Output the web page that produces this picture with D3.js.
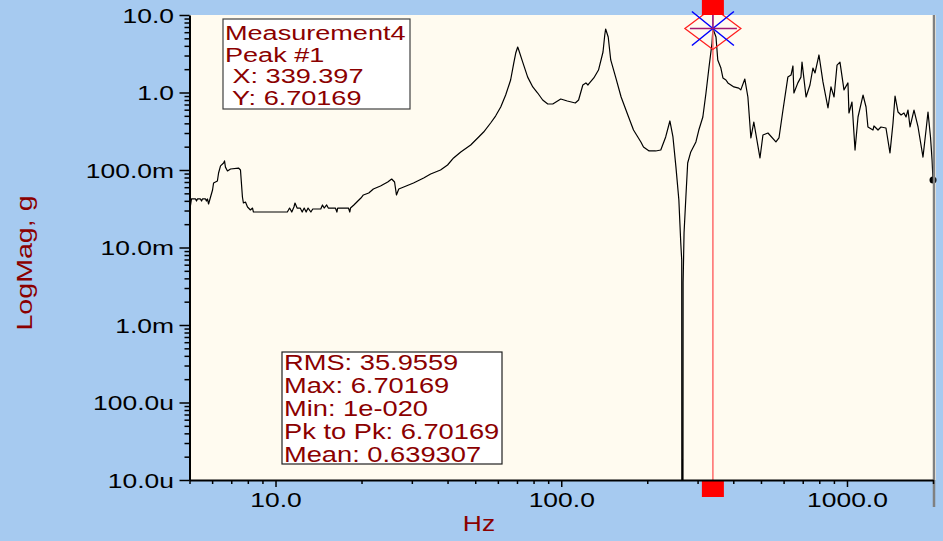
<!DOCTYPE html>
<html>
<head>
<meta charset="utf-8">
<script src="https://cdn.jsdelivr.net/npm/d3@7"></script>
<style>
  body { margin: 0; background: #a6caf0; }
  svg { display: block; font-family: "Liberation Sans", Arial, sans-serif; }
</style>
</head>
<body>
<script>
// Spectrum (Hz, g).
const freq = [5.04, 5.08, 5.25, 5.29, 5.33, 5.46, 5.51, 5.55, 5.69, 5.73, 5.78, 5.83, 6.02, 6.07, 6.26, 6.32, 6.42, 6.58, 6.63, 6.68,
  6.79, 6.96, 7.42, 7.54, 7.66, 7.72, 7.85, 7.98, 8.17, 8.31, 8.37, 11.0, 11.2, 11.4, 11.6, 11.7, 11.9, 12.2, 12.4, 12.6,
  12.8, 13.0, 13.3, 13.5, 14.4, 14.6, 14.8, 15.1, 15.3, 16.2, 16.4, 16.5, 18.0, 18.2, 18.3, 18.8, 19.9, 20.3, 21.2, 22.0,
  23.3, 24.7, 25.5, 26.1, 26.5, 27.0, 28.1, 30.4, 33.0, 34.9, 37.8, 40.0, 42.0, 44.5, 48.2, 51.0, 53.5, 56.6, 58.9, 61.4,
  63.9, 66.5, 68.2, 69.3, 70.4, 71.0, 73.3, 76.3, 79.5, 82.7, 86.1, 89.7, 93.4, 99.6, 105, 112, 115, 119, 122, 124,
  130, 135, 140, 142, 143, 146, 149, 155, 162, 171, 179, 190, 194, 203, 214, 223,
  232, 240, 246, 252, 258, 262, 264, 265, 267, 269, 273, 277, 284, 296, 303, 313, 321,
  329, 337, 339.397, 348, 353, 362, 368, 377, 383, 402, 418, 425, 439, 450, 461, 472, 496, 508, 529, 564,
  578, 597, 621, 637, 647, 652, 673, 690, 696, 719, 742, 760, 773, 798, 824, 858, 879, 901, 923, 945,
  976, 1008, 1016, 1041, 1067, 1093, 1138, 1166, 1184, 1233, 1243, 1284, 1315, 1369, 1414, 1449, 1473, 1509, 1546, 1583,
  1609, 1635, 1662, 1716, 1773, 1845, 1891, 1921, 1960, 1985, 2000];
const mag = [0.035, 0.0423, 0.0423, 0.0398, 0.0423, 0.0423, 0.0398, 0.0423, 0.0423, 0.0398, 0.0423, 0.0364, 0.0552, 0.068, 0.0721, 0.0915, 0.113, 0.123, 0.131, 0.109,
  0.0971, 0.103, 0.106, 0.1, 0.0448, 0.0375, 0.0386, 0.0333, 0.0305, 0.0323, 0.0287, 0.0287, 0.0323, 0.0287, 0.0333, 0.0375, 0.0323, 0.0323, 0.0287, 0.0323,
  0.0287, 0.0323, 0.0287, 0.0314, 0.0314, 0.0354, 0.0323, 0.0354, 0.0323, 0.0323, 0.0287, 0.0323, 0.0323, 0.0287, 0.0323, 0.0354, 0.0435, 0.0476, 0.0505, 0.0569,
  0.0622, 0.07, 0.0765, 0.07, 0.0476, 0.0569, 0.0603, 0.068, 0.0788, 0.0888, 0.1, 0.116, 0.143, 0.171, 0.21, 0.259, 0.309, 0.404, 0.497, 0.65,
  0.928, 1.45, 2.4, 3.23, 3.86, 3.53, 2.47, 1.58, 1.18, 0.985, 0.8, 0.711, 0.711, 0.824, 0.777, 0.732, 0.8, 1.25, 1.33, 1.25,
  1.54, 1.95, 3.33, 5.52, 6.6, 5.2, 2.63, 1.58, 0.875, 0.513, 0.328, 0.23, 0.198, 0.176, 0.176, 0.181,
  0.267, 0.429, 0.267, 0.109, 0.041, 0.0114, 0.0069, 1e-20, 0.00348, 0.0154, 0.0448, 0.123, 0.171, 0.23, 0.328, 0.483, 0.985,
  2.13, 4.35, 6.70169, 5.2, 2.63, 2.07, 1.54, 1.45, 1.33, 1.18, 1.14, 1.08, 1.49, 0.875, 0.259, 0.416, 0.143, 0.283, 0.3, 0.23,
  0.259, 0.594, 1.58, 1.68, 2.2, 0.985, 1.33, 1.58, 2.47, 0.875, 1.25, 2.07, 1.79, 3.05, 1.37, 0.631, 1.18, 0.875, 2.26, 2.47,
  1.08, 1.33, 0.544, 0.754, 0.181, 0.483, 0.928, 0.65, 0.359, 0.328, 0.37, 0.328, 0.359, 0.348, 0.166, 0.404, 0.901, 0.56, 0.513, 0.544,
  0.483, 0.594, 0.359, 0.594, 0.359, 0.147, 0.328, 0.56, 0.267, 0.135, 0.0743];

const yTickValues = [10, 1, 0.1, 0.01, 0.001, 0.0001, 0.00001];
const yTickLabels = ["10.0", "1.0", "100.0m", "10.0m", "1.0m", "100.0u", "10.0u"];
const xTickValues = [10, 100, 1000];
const xTickLabels = ["10.0", "100.0", "1000.0"];

const peak = {x: 339.397, y: 6.70169};
const peakLines = ["Measurement4", "Peak #1", " X: 339.397", " Y: 6.70169"];
const statLines = ["RMS: 35.9559", "Max: 6.70169", "Min: 1e-020", "Pk to Pk: 6.70169", "Mean: 0.639307"];

const width = 943;
const height = 541;
const plot = {left: 189.5, right: 933, top: 15, bottom: 480};
const darkRed = '#8b0000';

const svg = d3.select('body').append('svg')
    .attr('width', width)
    .attr('height', height);

svg.append('rect').attr('width', width).attr('height', height).attr('fill', '#a6caf0');

const x = d3.scaleLog().domain([5, 2000]).range([plot.left, plot.right]);
const y = d3.scaleLog().domain([1e-5, 10]).range([plot.bottom, plot.top]);

// plot background
svg.append('rect')
    .attr('x', plot.left).attr('y', plot.top)
    .attr('width', 936 - plot.left).attr('height', plot.bottom - plot.top)
    .attr('fill', '#fffbf0');

svg.append('clipPath').attr('id', 'clip')
  .append('rect')
    .attr('x', plot.left).attr('y', plot.top)
    .attr('width', plot.right - plot.left).attr('height', plot.bottom - plot.top);

// curve
const points = freq.map((f, i) => [f, mag[i]]);
const line = d3.line().x(d => x(d[0])).y(d => y(d[1]));

svg.append('path')
    .datum(points)
    .attr('clip-path', 'url(#clip)')
    .attr('fill', 'none')
    .attr('stroke', '#000')
    .attr('stroke-width', 1.2)
    .attr('stroke-linejoin', 'round')
    .attr('d', line);

// last point dot
svg.append('circle')
    .attr('cx', x(freq[freq.length - 1]))
    .attr('cy', y(mag[mag.length - 1]))
    .attr('r', 3.5)
    .attr('fill', '#000');

// cursor line at the peak
const px = x(peak.x);
const py = y(peak.y);
svg.append('line')
    .attr('x1', px).attr('x2', px)
    .attr('y1', plot.top).attr('y2', plot.bottom)
    .attr('stroke', '#ff6a6a').attr('stroke-width', 1.5);

// diamond marker
svg.append('path')
    .attr('d', `M${px - 28},${py} L${px},${py - 21} L${px + 28},${py} L${px},${py + 21} Z`)
    .attr('fill', 'none').attr('stroke', '#ff2020').attr('stroke-width', 1.3);

// blue asterisk
const star = svg.append('g').attr('stroke-width', 1.5);
star.append('line').attr('x1', px - 21).attr('y1', py - 17).attr('x2', px + 21).attr('y2', py + 17).attr('stroke', '#0000ff');
star.append('line').attr('x1', px + 21).attr('y1', py - 17).attr('x2', px - 21).attr('y2', py + 17).attr('stroke', '#0000ff');
star.append('line').attr('x1', px - 23).attr('y1', py).attr('x2', px + 24).attr('y2', py).attr('stroke', '#a01870');
star.append('line').attr('x1', px).attr('y1', plot.top).attr('y2', py).attr('x2', px).attr('stroke', '#8a1a8a');

// red handles
svg.append('rect').attr('x', px - 11).attr('y', 0).attr('width', 22).attr('height', plot.top).attr('fill', '#ff0000');
svg.append('rect').attr('x', px - 11).attr('y', plot.bottom).attr('width', 22).attr('height', 17).attr('fill', '#ff0000');

// right border
svg.append('line')
    .attr('x1', 934).attr('x2', 934)
    .attr('y1', plot.top).attr('y2', 507)
    .attr('stroke', '#808080').attr('stroke-width', 2.5);

// Left axis
const yMinor = y.ticks().filter(v => !yTickValues.some(t => Math.abs(t - v) / t < 1e-6));
svg.append('g')
    .attr('transform', `translate(${plot.left},0)`)
    .call(d3.axisLeft(y).tickValues(yMinor).tickSize(5).tickSizeOuter(0).tickFormat(''))
    .call(g => g.select('.domain').remove())
    .call(g => g.selectAll('line').attr('stroke-width', 1.5));

svg.append('g')
    .attr('transform', `translate(${plot.left},0)`)
    .call(d3.axisLeft(y).tickValues(yTickValues).tickSize(10).tickSizeOuter(0)
        .tickFormat((d, i) => yTickLabels[i]))
    .call(g => g.select('.domain').attr('stroke-width', 2))
    .call(g => g.selectAll('line').attr('stroke-width', 1.5))
    .call(g => g.selectAll('text')
        .attr('font-size', 21)
        .attr('font-family', '"Liberation Sans", Arial, sans-serif')
        .attr('fill', '#000')
        .attr('x', -12.3)
        .attr('dy', 7)
        .attr('transform', 'scale(1.26,1)'));

// Bottom axis
const xMinor = x.ticks().filter(v => !xTickValues.includes(v));
svg.append('g')
    .attr('transform', `translate(0,${plot.bottom})`)
    .call(d3.axisBottom(x).tickValues(xMinor).tickSize(4).tickSizeOuter(0).tickFormat(''))
    .call(g => g.select('.domain').remove())
    .call(g => g.selectAll('line').attr('stroke-width', 1.5));

svg.append('g')
    .attr('transform', `translate(0,${plot.bottom})`)
    .call(d3.axisBottom(x).tickValues(xTickValues).tickSize(7).tickSizeOuter(0)
        .tickFormat((d, i) => xTickLabels[i]))
    .call(g => g.select('.domain').attr('stroke-width', 2))
    .call(g => g.selectAll('line').attr('stroke-width', 1.5))
    .call(g => g.selectAll('text')
        .attr('font-size', 21)
        .attr('font-family', '"Liberation Sans", Arial, sans-serif')
        .attr('fill', '#000')
        .attr('y', 27)
        .attr('dy', 0)
        .attr('transform', 'scale(1.26,1)'));

// Axis titles
svg.append('text')
    .attr('transform', 'translate(479,531) scale(1.2,1)')
    .attr('text-anchor', 'middle')
    .attr('font-size', 22)
    .attr('fill', darkRed)
    .text('Hz');

svg.append('text')
    .attr('transform', 'translate(32,263) rotate(-90) scale(1.3,1)')
    .attr('text-anchor', 'middle')
    .attr('font-size', 22)
    .attr('fill', darkRed)
    .text('LogMag, g');

// Peak readout box
svg.append('rect')
    .attr('x', 223).attr('y', 19).attr('width', 187).attr('height', 90)
    .attr('fill', '#fff').attr('stroke', '#404040').attr('stroke-width', 1.2);

svg.selectAll('.peak-line')
    .data(peakLines)
    .join('text')
    .attr('class', 'peak-line')
    .attr('transform', (d, i) => `translate(225,${40 + i * 21.5}) scale(1.29,1)`)
    .attr('font-size', 21)
    .attr('fill', darkRed)
    .style('white-space', 'pre')
    .text(d => d);

// Statistics box
svg.append('rect')
    .attr('x', 282).attr('y', 352).attr('width', 220).attr('height', 112)
    .attr('fill', '#fff').attr('stroke', '#202020').attr('stroke-width', 1.2);

svg.selectAll('.stat-line')
    .data(statLines)
    .join('text')
    .attr('class', 'stat-line')
    .attr('transform', (d, i) => `translate(284,${370 + i * 23}) scale(1.24,1)`)
    .attr('font-size', 22)
    .attr('fill', darkRed)
    .text(d => d);
</script>
</body>
</html>
